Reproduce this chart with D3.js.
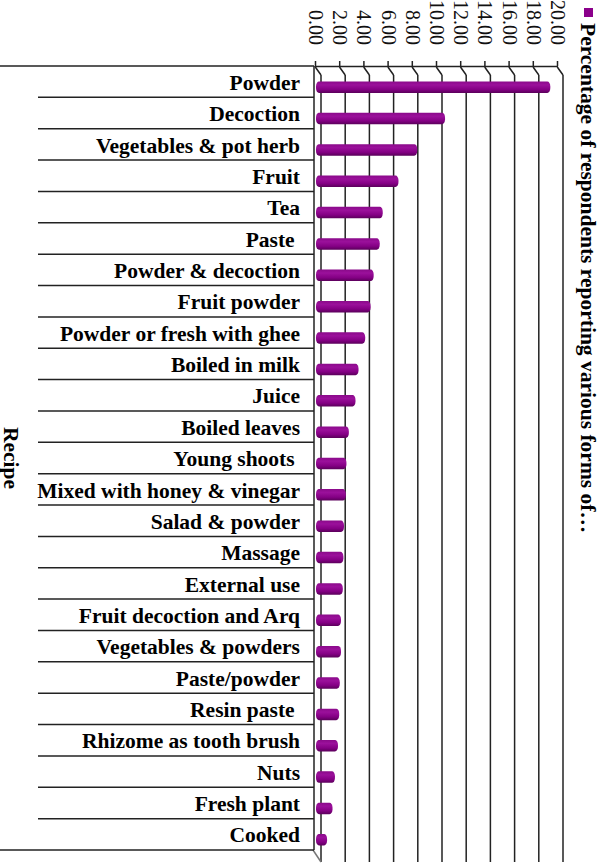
<!DOCTYPE html>
<html><head><meta charset="utf-8">
<script src="https://cdn.jsdelivr.net/npm/d3@7"></script>
<style>
html,body{margin:0;padding:0;background:#fff;}
text{font-family:"Liberation Serif","Times New Roman",serif;}
</style>
</head><body>
<svg id="c" width="600" height="864"></svg>
<script>
const categories = ["Powder","Decoction","Vegetables & pot herb","Fruit","Tea","Paste ","Powder & decoction","Fruit powder","Powder or fresh with ghee","Boiled in milk","Juice","Boiled leaves","Young shoots ","Mixed with honey & vinegar","Salad & powder","Massage","External use","Fruit decoction and Arq","Vegetables & powders","Paste/powder","Resin paste ","Rhizome as tooth brush","Nuts","Fresh plant","Cooked"];
const values = [19.2,10.5,8.2,6.65,5.35,5.1,4.6,4.35,3.9,3.35,3.1,2.55,2.35,2.3,2.15,2.1,2.05,1.9,1.9,1.8,1.75,1.65,1.4,1.2,0.75];
const tickValues = [0,2,4,6,8,10,12,14,16,18,20];
const seriesName = "Percentage of respondents reporting various forms of…";
const axisTitle = "Recipe";

const svg = d3.select("#c");
const fx0 = 315, topY = 66, bottomY = 850, ddx = 6, ddy = 9;
const x = d3.scaleLinear().domain([0,20]).range([0,242]);
const y = d3.scaleBand().domain(categories).range([topY,bottomY]);
const lineCol = "#222";

const defs = svg.append("defs");
const g1 = defs.append("linearGradient").attr("id","bar").attr("x1",0).attr("y1",0).attr("x2",0).attr("y2",1);
g1.append("stop").attr("offset","0%").attr("stop-color","#8a0a8a");
g1.append("stop").attr("offset","30%").attr("stop-color","#9b109b");
g1.append("stop").attr("offset","70%").attr("stop-color","#840084");
g1.append("stop").attr("offset","100%").attr("stop-color","#5a005a");

// back wall gridlines and connectors
const grid = svg.append("g");
tickValues.forEach(t => {
  const fx = fx0 + x(t);
  grid.append("line").attr("x1",fx+ddx).attr("x2",fx+ddx).attr("y1",topY+ddy).attr("y2",bottomY+ddy+3)
    .attr("stroke",lineCol).attr("stroke-width",1.5);
  grid.append("path").attr("d",`M${fx},${topY}L${fx+1},${topY+2}L${fx+ddx},${topY+ddy}`)
    .attr("fill","none").attr("stroke",lineCol).attr("stroke-width",1.5);
});
// bottom-left connector
grid.append("line").attr("x1",fx0-2).attr("y1",bottomY).attr("x2",fx0+ddx).attr("y2",bottomY+ddy+3)
  .attr("stroke","#777").attr("stroke-width",1.5);

// top axis
const ax = svg.append("g").attr("transform",`translate(${fx0},${topY})`)
  .call(d3.axisTop(x).tickValues(tickValues).tickSize(5).tickSizeOuter(0).tickFormat(d3.format(".2f")));
ax.select(".domain").attr("stroke",lineCol).attr("stroke-width",1.5);
ax.selectAll(".tick line").attr("stroke",lineCol).attr("stroke-width",1.5);
ax.selectAll(".tick text")
  .attr("transform","rotate(90)")
  .attr("x",-21).attr("y",0).attr("dy","0.32em")
  .attr("text-anchor","end")
  .attr("font-size",20).attr("fill","#111")
  .style("font-family","'Liberation Serif',serif");

// left axis line and separators
svg.append("line").attr("x1",fx0-1).attr("x2",fx0-1).attr("y1",topY).attr("y2",bottomY)
  .attr("stroke",lineCol).attr("stroke-width",1.5);
categories.forEach((c,i) => {
  if (i === 0) return;
  const yy = y(c);
  svg.append("line").attr("x1",38).attr("x2",fx0-1).attr("y1",yy).attr("y2",yy)
    .attr("stroke",lineCol).attr("stroke-width",1.5);
});
svg.append("line").attr("x1",0).attr("x2",fx0-1).attr("y1",topY).attr("y2",topY).attr("stroke",lineCol).attr("stroke-width",1.5);
svg.append("line").attr("x1",0).attr("x2",fx0-1).attr("y1",bottomY).attr("y2",bottomY).attr("stroke",lineCol).attr("stroke-width",1.5);

// category labels
const ay = svg.append("g").attr("transform",`translate(${fx0-1},0)`)
  .call(d3.axisLeft(y).tickSize(0).tickPadding(14));
ay.select(".domain").remove();
ay.selectAll(".tick text").attr("font-size",21.5).attr("font-weight","bold").attr("fill","#000")
  .attr("dy","0.38em").style("white-space","pre")
  .style("font-family","'Liberation Serif',serif");

// bars
const bh = 11.5;
svg.append("g").selectAll("rect").data(values).enter().append("rect")
  .attr("x", fx0 + 1)
  .attr("y", (d,i) => y(categories[i]) + y.bandwidth()/2 + 5.5 - bh/2)
  .attr("width", d => x(d) + 2)
  .attr("height", bh)
  .attr("rx", 3).attr("ry", 5)
  .attr("fill","url(#bar)");

// axis title
svg.append("text").attr("transform",`translate(12,${(topY+bottomY)/2}) rotate(90)`)
  .attr("text-anchor","middle").attr("dy","0.35em")
  .attr("font-size",21.5).attr("font-weight","bold").text(axisTitle);

// legend
svg.append("rect").attr("x",584).attr("y",8).attr("width",9).attr("height",9).attr("fill","#8b008b");
svg.append("text").attr("transform","translate(589,23) rotate(90)")
  .attr("text-anchor","start").attr("dy","0.35em")
  .attr("font-size",21.5).attr("font-weight","bold").text(seriesName);
</script>
</body></html>
